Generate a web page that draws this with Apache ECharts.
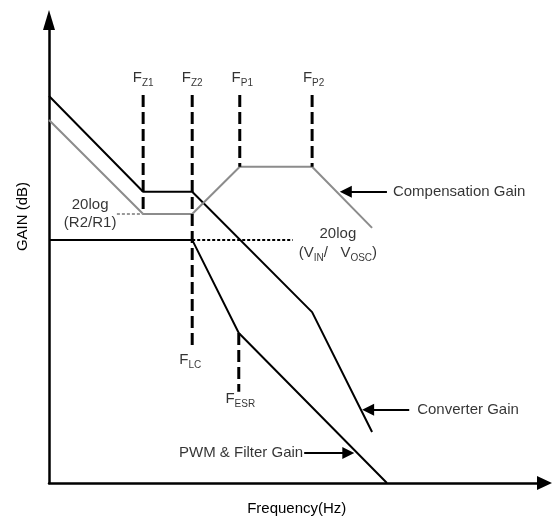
<!DOCTYPE html>
<html>
<head>
<meta charset="utf-8">
<script src="https://cdn.jsdelivr.net/npm/echarts@6/dist/echarts.min.js"></script>
<style>
html,body{margin:0;padding:0;background:#fff;}
#chart{width:552px;height:517px;}
</style>
</head>
<body>
<div id="chart"></div>
<script>
// frequency / gain breakpoints (arbitrary units, x 0-100, y 0-100)
var convFreq = [0, 19.0, 28.9, 53.1, 65.2];
var convGain = [83.6, 62.9, 62.9, 36.9, 11.0];

var compFreq = [0, 19.0, 28.9, 38.5, 53.1, 65.2];
var compGain = [78.4, 58.1, 58.1, 68.3, 68.3, 55.1];

var pwmFreq = [0, 28.9, 38.3, 68.2];
var pwmGain = [52.5, 52.5, 32.4, 0];

// vertical dashed markers
var markerNames = ['FZ1', 'FZ2', 'FP1', 'FP2', 'FESR'];
var markerFreq = [19.0, 28.9, 38.5, 53.1, 38.3];
var markerTop = [83.8, 83.8, 83.8, 83.8, 32.4];
var markerBottom = [58.1, 29.4, 68.3, 68.3, 19.7];

// dotted reference levels
var r2r1Freq = [13.7, 19.0];
var r2r1Gain = 58.1;
var vinFreq = [28.9, 49.2];
var vinGain = 52.5;

// annotation arrows [fromX, toX, y]
var arrowFrom = [68.2, 72.7, 51.5];
var arrowTo = [59.9, 64.4, 60.4];
var arrowY = [62.9, 15.8, 6.5];

var FONT = 'Arial, "Liberation Sans", sans-serif';

function pairs(xs, ys) {
  var out = [];
  for (var i = 0; i < xs.length; i++) out.push([xs[i], ys[i]]);
  return out;
}

var rich = {
  f: {fontSize: 15, fontFamily: FONT, color: '#000'},
  s: {fontSize: 10, fontFamily: FONT, color: '#000', padding: [10, 0, 0, 0]},
  n: {fontSize: 15, fontFamily: FONT, color: '#000', lineHeight: 18}
};

function lbl(x, y, text, pos) {
  return {
    value: [x, y],
    label: {show: true, formatter: text, position: pos || 'inside', distance: 0, rich: rich, color: '#000', fontFamily: FONT, fontSize: 15}
  };
}

var labels = [
  lbl(19.0, 87.5, '{f|F}{s|Z1}'),
  lbl(28.9, 87.5, '{f|F}{s|Z2}'),
  lbl(39.0, 87.5, '{f|F}{s|P1}'),
  lbl(53.4, 87.5, '{f|F}{s|P2}'),
  lbl(28.5, 26.6, '{f|F}{s|LC}'),
  lbl(38.6, 18.1, '{f|F}{s|ESR}'),
  lbl(8.3, 58.1, '{n|20log}\n{n|(R2/R1)}'),
  lbl(58.3, 51.6, '{n|20log}\n{n|(V}{s|IN}{n|/   V}{s|OSC}{n|)}'),
  lbl(69.4, 62.9, 'Compensation Gain', 'right'),
  lbl(74.3, 15.8, 'Converter Gain', 'right'),
  lbl(51.3, 6.5, 'PWM & Filter Gain', 'left')
];

var arrows = [];
for (var i = 0; i < arrowFrom.length; i++) {
  arrows.push([{coord: [arrowFrom[i], arrowY[i]]}, {coord: [arrowTo[i], arrowY[i]]}]);
}

var series = [
  {type: 'line', data: pairs(convFreq, convGain), symbol: 'none', lineStyle: {color: '#000', width: 2}},
  {type: 'line', data: pairs(compFreq, compGain), symbol: 'none', lineStyle: {color: '#8c8c8c', width: 2}},
  {type: 'line', data: pairs(pwmFreq, pwmGain), symbol: 'none', lineStyle: {color: '#000', width: 2}},
  {type: 'line', data: [[r2r1Freq[0], r2r1Gain], [r2r1Freq[1], r2r1Gain]], symbol: 'none', lineStyle: {color: '#999', width: 2, type: [3, 2]}},
  {type: 'line', data: [[vinFreq[0], vinGain], [vinFreq[1], vinGain]], symbol: 'none', lineStyle: {color: '#000', width: 2, type: [3, 2]}}
];
for (var k = 0; k < markerNames.length; k++) {
  series.push({
    type: 'line', name: markerNames[k], symbol: 'none',
    data: [[markerFreq[k], markerTop[k]], [markerFreq[k], markerBottom[k]]],
    lineStyle: {color: '#000', width: 3, type: [12, 5]}
  });
}
series.push({
  type: 'scatter', symbolSize: 0, data: labels, z: 10,
  markLine: {
    silent: true, symbol: ['none', 'triangle'], symbolSize: 12,
    label: {show: false},
    itemStyle: {color: '#000'},
    lineStyle: {color: '#000', width: 2, type: 'solid'},
    data: arrows
  }
});

var chart = echarts.init(document.getElementById('chart'));
chart.setOption({
  animation: false,
  backgroundColor: '#fff',
  grid: {left: 49, right: 7.5, top: 20, bottom: 34, containLabel: false, outerBoundsMode: 'none'},
  xAxis: {
    type: 'value', min: 0, max: 100,
    name: 'Frequency(Hz)', nameLocation: 'middle', nameGap: 18,
    nameTextStyle: {fontFamily: FONT, fontSize: 15, color: '#000'},
    axisLine: {onZero: false, symbol: ['none', 'triangle'], symbolSize: [14, 15], lineStyle: {color: '#000', width: 2.5}},
    axisTick: {show: false}, axisLabel: {show: false}, splitLine: {show: false}
  },
  yAxis: {
    type: 'value', min: 0, max: 100,
    name: 'GAIN (dB)', nameLocation: 'middle', nameGap: 19, nameRotate: 90,
    nameTextStyle: {fontFamily: FONT, fontSize: 15, color: '#000', padding: [0, 0, 0, 70]},
    axisLine: {onZero: false, symbol: ['none', 'triangle'], symbolSize: [12, 20], lineStyle: {color: '#000', width: 2.5}},
    axisTick: {show: false}, axisLabel: {show: false}, splitLine: {show: false}
  },
  series: series
});
</script>
</body>
</html>
